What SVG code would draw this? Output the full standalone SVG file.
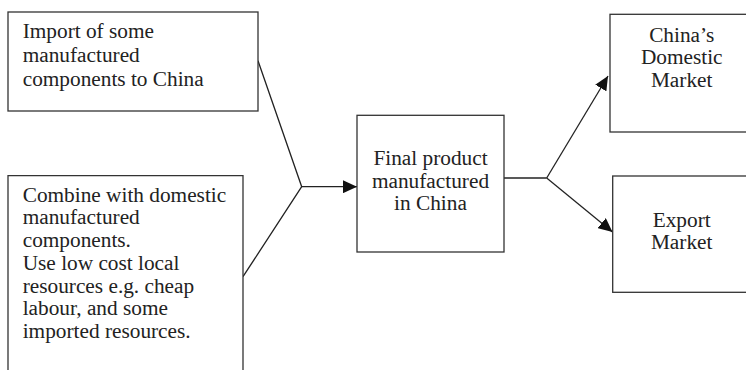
<svg xmlns="http://www.w3.org/2000/svg" width="746" height="370" viewBox="0 0 746 370">
<defs>
<style>
.box{fill:#fff;stroke:#333;stroke-width:1.3}
.t{font-family:"Liberation Serif","Times New Roman",serif;font-size:21.3px;fill:#222}
.c{text-anchor:middle}
.ln{fill:none;stroke:#222;stroke-width:1.3}
</style>
<marker id="ah" viewBox="0 0 14 13" refX="14" refY="6.5" markerWidth="14" markerHeight="13" markerUnits="userSpaceOnUse" orient="auto">
<path d="M0,0 L14,6.5 L0,13 Z" fill="#111"/>
</marker>
</defs>
<rect width="746" height="370" fill="#fff"/>
<g id="connectors">
<polyline class="ln" points="258,60.7 301.7,186.7 243,276.7"/>
<line class="ln" x1="301.7" y1="186.7" x2="357" y2="186.7" marker-end="url(#ah)"/>
<line class="ln" x1="504" y1="178" x2="546.7" y2="178"/>
<line class="ln" x1="546.7" y1="178" x2="608" y2="76" marker-end="url(#ah)"/>
<line class="ln" x1="546.7" y1="178" x2="612.5" y2="232" marker-end="url(#ah)"/>
</g>
<g id="import">
<rect class="box" x="8" y="12" width="250" height="99"/>
<text class="t" x="22.7" y="37.7">Import of some</text>
<text class="t" x="22.7" y="61.5">manufactured</text>
<text class="t" x="22.7" y="85.5">components to China</text>
</g>
<g id="combine">
<path class="box" d="M8,376 V175.7 H243 V376"/>
<text class="t" x="22.7" y="201.7">Combine with domestic</text>
<text class="t" x="22.7" y="224.4">manufactured</text>
<text class="t" x="22.7" y="247.1">components.</text>
<text class="t" x="22.7" y="269.8">Use low cost local</text>
<text class="t" x="22.7" y="292.5">resources e.g. cheap</text>
<text class="t" x="22.7" y="315.2">labour, and some</text>
<text class="t" x="22.7" y="337.9">imported resources.</text>
</g>
<g id="final">
<rect class="box" x="357" y="115.3" width="147" height="136.7"/>
<text class="t c" x="430.5" y="165">Final product</text>
<text class="t c" x="430.5" y="187.5">manufactured</text>
<text class="t c" x="430.5" y="210">in China</text>
</g>
<g id="domestic">
<rect class="box" x="610" y="14.3" width="140" height="117.7"/>
<text class="t c" x="681.7" y="41.7">China’s</text>
<text class="t c" x="681.7" y="64">Domestic</text>
<text class="t c" x="681.7" y="86.5">Market</text>
</g>
<g id="export">
<rect class="box" x="612.7" y="176" width="140" height="116.3"/>
<text class="t c" x="681.7" y="226.7">Export</text>
<text class="t c" x="681.7" y="249">Market</text>
</g>
</svg>
